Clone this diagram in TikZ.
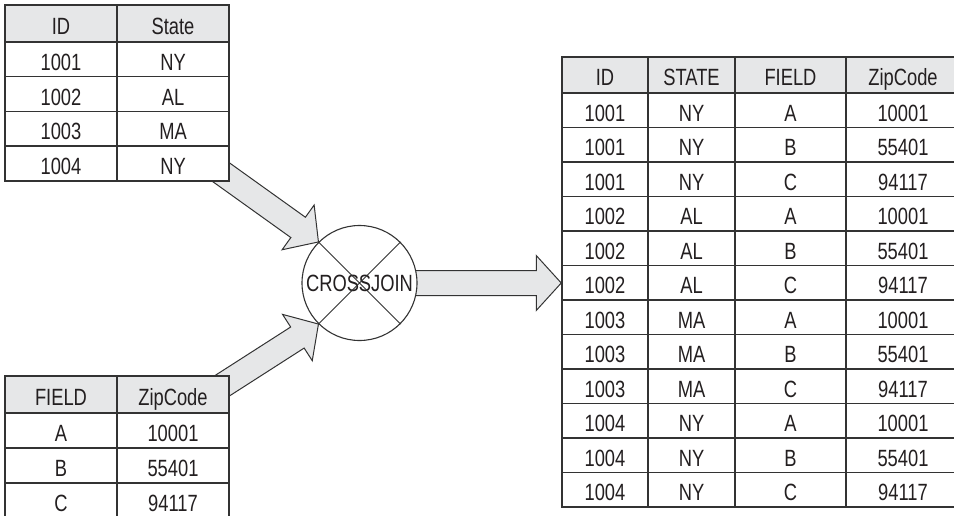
\documentclass[tikz,border=0pt]{standalone}
\usepackage{fontspec}
\setmainfont{Liberation Sans}[FakeStretch=0.78]
\usetikzlibrary{calc}
\pgfdeclarelayer{back}
\pgfsetlayers{back,main}
\definecolor{ink}{HTML}{333333}
\definecolor{txt}{HTML}{231F20}
\definecolor{hdr}{HTML}{E6E7E8}
\tikzset{
  cell/.style={draw=ink, line width=1.5pt, fill=white, inner sep=0pt, text=txt,
    font=\fontsize{23.5pt}{28pt}\selectfont, text height=22pt, text depth=0pt},
  hcell/.style={cell, fill=hdr},
  blockfill/.style={draw=ink, line width=1pt, fill=hdr, line join=miter},
  joinop/.style={circle, draw=ink, line width=1.1pt, fill=white, minimum size=115pt, inner sep=0pt,
    text=txt, font=\fontsize{23.5pt}{28pt}\selectfont, text height=17pt, text depth=0pt}
}
% block arrow: #1 tail, #2 tip
\newcommand{\blockarrow}[2]{%
  \coordinate (hb) at ($(#2)!25pt!(#1)$);
  \draw[blockfill] ($(#1)!12.5pt!90:(#2)$) -- ($(hb)!12.5pt!-90:(#1)$) -- ($(hb)!27.5pt!-90:(#1)$)
    -- (#2) -- ($(hb)!27.5pt!90:(#1)$) -- ($(hb)!12.5pt!90:(#1)$) -- ($(#1)!12.5pt!-90:(#2)$) -- cycle;
}
\begin{document}
\begin{tikzpicture}[x=1pt,y=-1pt]
\useasboundingbox (0,0) rectangle (954,516);
% ID / State
\node[hcell, minimum width=112pt, minimum height=37pt] (a-0-1) at (61,23.5) {ID};
\node[hcell, minimum width=112pt, minimum height=37pt] (a-0-2) at (173,23.5) {State};
\foreach \id/\st [count=\r] in {1001/NY,1002/AL,1003/MA,1004/NY}{
  \node[cell, minimum width=112pt, minimum height=34.75pt] (a-\r-1) at (61,{42+(\r-0.5)*34.75}) {\id};
  \node[cell, minimum width=112pt, minimum height=34.75pt] (a-\r-2) at (173,{42+(\r-0.5)*34.75}) {\st};
}
% FIELD / ZipCode
\node[hcell, minimum width=112pt, minimum height=37pt] (b-0-1) at (61,394.5) {FIELD};
\node[hcell, minimum width=112pt, minimum height=37pt] (b-0-2) at (173,394.5) {ZipCode};
\foreach \fd/\zip [count=\r] in {A/10001,B/55401,C/94117}{
  \node[cell, minimum width=112pt, minimum height=35pt] (b-\r-1) at (61,{413+(\r-0.5)*35}) {\fd};
  \node[cell, minimum width=112pt, minimum height=35pt] (b-\r-2) at (173,{413+(\r-0.5)*35}) {\zip};
}
% result
\node[hcell, minimum width=86pt, minimum height=36pt] (o-0-1) at (605,75) {ID};
\node[hcell, minimum width=87pt, minimum height=36pt] (o-0-2) at (691.5,75) {STATE};
\node[hcell, minimum width=111pt, minimum height=36pt] (o-0-3) at (790.5,75) {FIELD};
\node[hcell, minimum width=114pt, minimum height=36pt] (o-0-4) at (903,75) {ZipCode};
\foreach \id/\st [count=\i] in {1001/NY,1002/AL,1003/MA,1004/NY}
  \foreach \fd/\zip [count=\j] in {A/10001,B/55401,C/94117}{
    \pgfmathtruncatemacro{\r}{3*(\i-1)+\j}
    \node[cell, minimum width=86pt, minimum height=34.5pt] (o-\r-1) at (605,{93+(\r-0.5)*34.5}) {\id};
    \node[cell, minimum width=87pt, minimum height=34.5pt] (o-\r-2) at (691.5,{93+(\r-0.5)*34.5}) {\st};
    \node[cell, minimum width=111pt, minimum height=34.5pt] (o-\r-3) at (790.5,{93+(\r-0.5)*34.5}) {\fd};
    \node[cell, minimum width=114pt, minimum height=34.5pt] (o-\r-4) at (903,{93+(\r-0.5)*34.5}) {\zip};
  }
% operator
\node[joinop] (cj) at (359.5,283) {CROSSJOIN};
\draw[ink, line width=1pt] (cj.135) -- (cj.-45) (cj.45) -- (cj.-135);
\coordinate (a-tail) at (204,160);
\coordinate (b-tail) at (200,400);
\coordinate (o-tip) at (cj.center -| o-0-1.west);
\begin{pgfonlayer}{back}
  \blockarrow{a-tail}{cj.135}
  \blockarrow{b-tail}{cj.-135}
  \blockarrow{cj.center}{o-tip}
\end{pgfonlayer}
\end{tikzpicture}
\end{document}
